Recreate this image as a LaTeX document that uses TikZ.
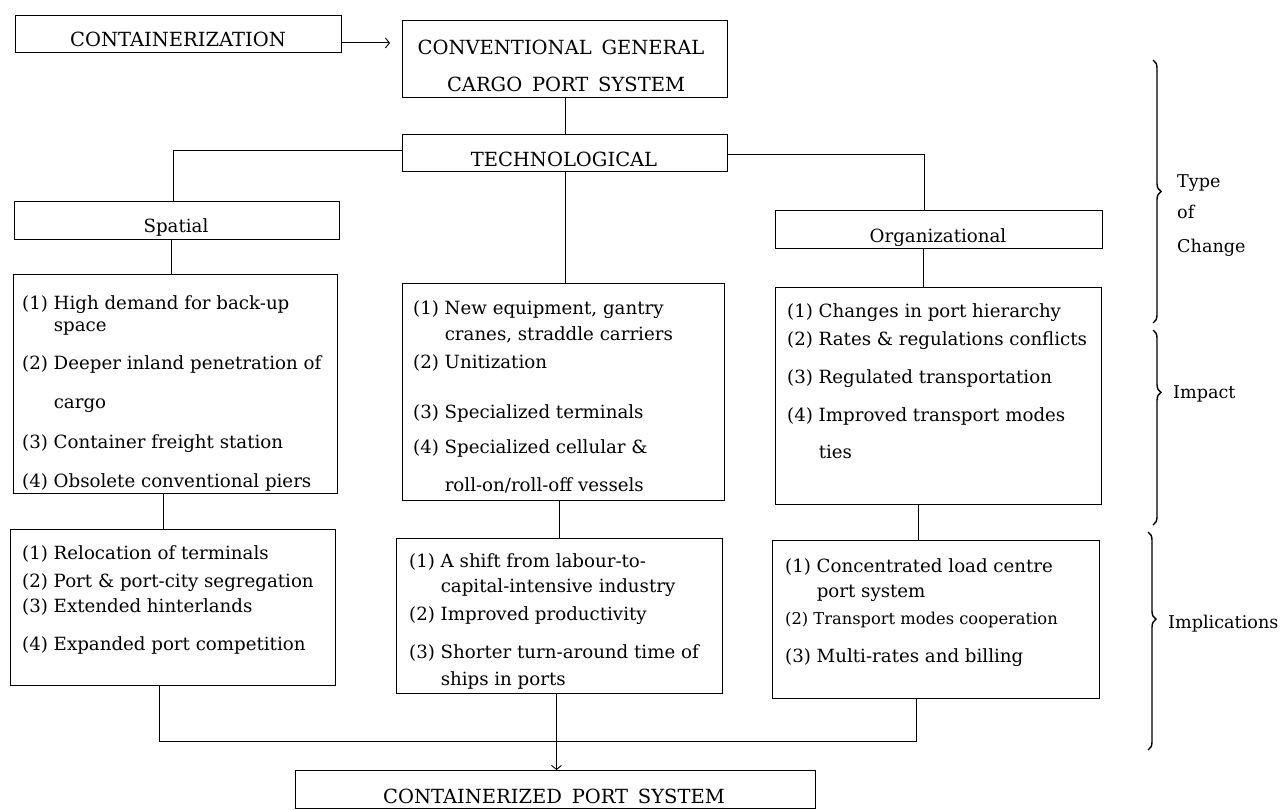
\documentclass[tikz,border=0pt]{standalone}
\usepackage{fontspec}
\setmainfont{DejaVu Serif}
\usetikzlibrary{arrows.meta,decorations.pathreplacing,calc}
\begin{document}
\begin{tikzpicture}[x=1pt,y=-1pt,
  box/.style 2 args={draw, line width=0.9pt, minimum width=#1, minimum height=#2, anchor=north west, inner sep=0pt},
  conn/.style={line width=0.9pt},
  arr/.style={line width=0.9pt, -{Straight Barb[length=4pt,width=10pt]}},
  head/.style={anchor=base, inner sep=0pt, font=\fontsize{19.5}{23}\selectfont},
  item/.style={anchor=base west, inner sep=0pt, font=\fontsize{18.2}{22}\selectfont},
  smallitem/.style={anchor=base west, inner sep=0pt, font=\fontsize{16.3}{19}\selectfont},
  side/.style={anchor=base west, inner sep=0pt, font=\fontsize{17.6}{21}\selectfont},
  brc/.style={line width=1.4pt, decorate, decoration={brace, amplitude=8pt, aspect=#1}}
]
\useasboundingbox (0,0) rectangle (1288,810);
\fill[white] (0,0) rectangle (1288,810);

% boxes
\node[box={326pt}{37pt}] (cont) at (15,15) {};
\node[box={325pt}{77pt}] (conv) at (402,20) {};
\node[box={325pt}{37pt}] (tech) at (402,134) {};
\node[box={325pt}{38pt}] (spat) at (14,201) {};
\node[box={327pt}{38pt}] (org) at (775,210) {};
\node[box={324pt}{219pt}] (simp) at (13,274) {};
\node[box={322pt}{217pt}] (timp) at (402,283) {};
\node[box={326pt}{217pt}] (oimp) at (775,287) {};
\node[box={325pt}{156pt}] (simpl) at (10,529) {};
\node[box={326pt}{155pt}] (timpl) at (396,538) {};
\node[box={327pt}{158pt}] (oimpl) at (772,540) {};
\node[box={520pt}{38pt}] (final) at (295,770) {};

% headings
\node[head] (tcont) at (178,47) {CONTAINERIZATION};
\node[head] (tconv1) at (561,55) {CONVENTIONAL\enspace GENERAL};
\node[head] (tconv2) at (566,92) {CARGO\enspace PORT\enspace SYSTEM};
\node[head] (ttech) at (564,167) {TECHNOLOGICAL};
\node[item, anchor=base] (tspat) at (176,233) {Spatial};
\node[item, anchor=base] (torg) at (938,243) {Organizational};
\node[head] (tfinal) at (554,803) {CONTAINERIZED\enspace PORT\enspace SYSTEM};

% spatial impact
\node[item] (s1) at (22,310) {(1) High demand for back-up};
\node[item] (s1b) at (22,332) {\phantom{(1) }space};
\node[item] (s2) at (22,370) {(2) Deeper inland penetration of};
\node[item] (s2b) at (22,408) {\phantom{(1) }cargo};
\node[item] (s3) at (22,448) {(3) Container freight station};
\node[item] (s4) at (22,487) {(4) Obsolete conventional piers};

% technological impact
\node[item] (t1) at (413,315) {(1) New equipment, gantry};
\node[item] (t1b) at (413,341) {\phantom{(1) }cranes, straddle carriers};
\node[item] (t2) at (413,368) {(2) Unitization};
\node[item] (t3) at (413,418) {(3) Specialized terminals};
\node[item] (t4) at (413,453) {(4) Specialized cellular \&};
\node[item] (t4b) at (413,491) {\phantom{(1) }roll-on/roll-off vessels};

% organizational impact
\node[item] (o1) at (787,318) {(1) Changes in port hierarchy};
\node[item] (o2) at (787,345) {(2) Rates \& regulations conflicts};
\node[item] (o3) at (787,383) {(3) Regulated transportation};
\node[item] (o4) at (787,421) {(4) Improved transport modes};
\node[item] (o4b) at (787,458) {\phantom{(1) }ties};

% spatial implications
\node[item] (si1) at (22,559) {(1) Relocation of terminals};
\node[item] (si2) at (22,587) {(2) Port \& port-city segregation};
\node[item] (si3) at (22,612) {(3) Extended hinterlands};
\node[item] (si4) at (22,650) {(4) Expanded port competition};

% technological implications
\node[item] (ti1) at (409,567) {(1) A shift from labour-to-};
\node[item] (ti1b) at (409,592) {\phantom{(1) }capital-intensive industry};
\node[item] (ti2) at (409,620) {(2) Improved productivity};
\node[item] (ti3) at (409,658) {(3) Shorter turn-around time of};
\node[item] (ti3b) at (409,685) {\phantom{(1) }ships in ports};

% organizational implications
\node[item] (oi1) at (785,572) {(1) Concentrated load centre};
\node[item] (oi1b) at (785,597) {\phantom{(1) }port system};
\node[smallitem] (oi2) at (785,624) {(2) Transport modes cooperation};
\node[item] (oi3) at (785,662) {(3) Multi-rates and billing};

% side labels
\node[side] (ltype) at (1177,188) {Type};
\node[side] (lof) at (1177,219) {of};
\node[side] (lchange) at (1177,253) {Change};
\node[side] (limpact) at (1173,398) {Impact};
\node[side] (limpl) at (1168,628) {Implications};

% connectors
\draw[arr] ([yshift=-9pt]cont.east) -- ([yshift=-9pt,xshift=-12pt]cont.east -| conv.west);
\draw[conn] (conv.south) -- (tech.north);
\draw[conn] ([yshift=2pt]tech.west) -| ([xshift=-4pt]spat.north);
\draw[conn] ([yshift=-2pt]tech.east) -| ([xshift=-15pt]org.north);
\draw[conn] (tech.south) -- (tech.south |- timp.north);
\draw[conn] ([xshift=-6pt]spat.south) -- ([xshift=-6pt]spat.south |- simp.north);
\draw[conn] ([xshift=-12pt]simp.south) -- ([xshift=-12pt]simp.south |- simpl.north);
\draw[conn] ([xshift=-4pt]timp.south) -- ([xshift=-4pt]timp.south |- timpl.north);
\draw[conn] ([xshift=-16pt]org.south) -- ([xshift=-16pt]org.south |- oimp.north);
\draw[conn] ([xshift=-20pt]oimp.south) -- ([xshift=-20pt]oimp.south |- oimpl.north);
\draw[conn] ([xshift=-14pt]simpl.south) -- ++(0,56) coordinate (jn) -| ([xshift=-20pt]oimpl.south);
\draw[arr] ([xshift=-3pt]timpl.south) -- ([xshift=-3pt]timpl.south |- final.north);

% braces
\draw[brc=0.5] (1153,60) -- (1153,323);
\draw[brc=0.32] (1153,330) -- (1153,525);
\draw[brc=0.40] (1148,532) -- (1148,750);
\end{tikzpicture}
\end{document}
